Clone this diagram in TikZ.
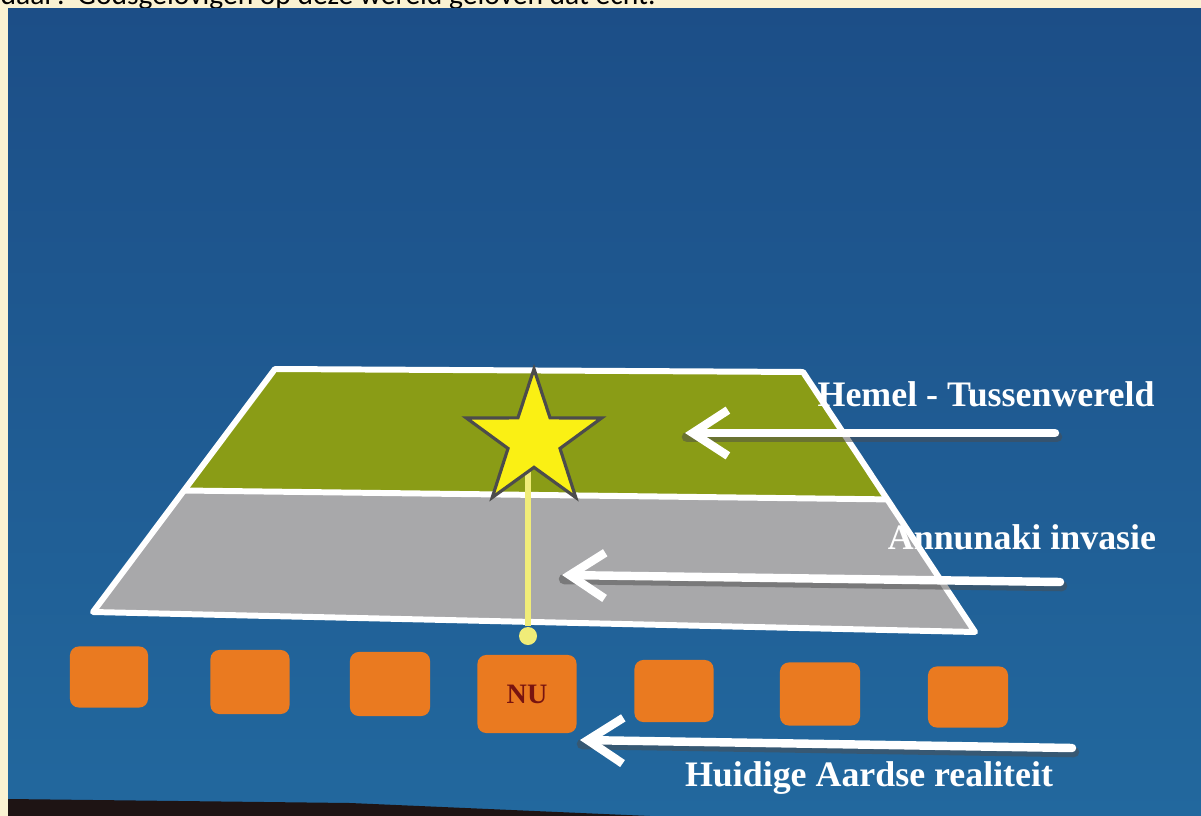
\documentclass[tikz,border=0pt]{standalone}
\usepackage{fontspec}
\setmainfont{Liberation Serif}
\newfontfamily\notefont{Carlito}
\usetikzlibrary{arrows.meta, shapes.geometric, positioning, calc}

\definecolor{paper}{RGB}{250,242,210}
\definecolor{screentop}{RGB}{28,78,135}
\definecolor{screenbot}{RGB}{34,104,158}
\definecolor{screenrim}{RGB}{30,20,20}
\definecolor{heaven}{RGB}{138,156,22}
\definecolor{invasion}{RGB}{168,168,170}
\definecolor{earth}{RGB}{234,122,32}
\definecolor{nutext}{RGB}{120,20,16}
\definecolor{starfill}{RGB}{250,240,20}
\definecolor{beam}{RGB}{240,236,120}

\tikzset{
  era/.style={fill=earth, rounded corners=2.5pt, inner sep=0pt},
  pointer/.style={white, line width=2.4pt, line cap=round,
    -{Straight Barb[length=10pt, width=13pt]}},
  pointershadow/.style={black!70, opacity=0.5, line width=3pt, line cap=round},
  tag/.style={text=white, font=\bfseries\fontsize{10.2}{12}\selectfont, inner sep=0pt}
}

\begin{document}
\begin{tikzpicture}[x=0.01cm, y=-0.01cm]
\useasboundingbox (0,0) rectangle (1201,816);
% Page
\fill[paper] (0,0) rectangle (1201,816);
\begin{scope}
\clip (0,0) rectangle (1201,9);
\node[anchor=base west, font=\notefont\fontsize{8.4}{10}\selectfont, inner sep=0pt] (note) at (0,5) {daar? Godsgelovigen op deze wereld geloven dat echt.};
\end{scope}

% Screen
\shade[top color=screentop, bottom color=screenbot] (8,9) rectangle (1201,816);
\fill[screenrim] (8,799) -- (350,803) -- (650,816) -- (8,816) -- cycle;

% Layers
\coordinate (tl) at (275,369);
\coordinate (tr) at (803,372);
\coordinate (br) at (975,632);
\coordinate (bl) at (93,612);
\coordinate (ml) at ($(tl)!0.5!(bl)$);
\coordinate (mr) at ($(tr)!0.49!(br)$);
\fill[heaven] (tl) -- (tr) -- (mr) -- (ml) -- cycle;
\fill[invasion] (ml) -- (mr) -- (br) -- (bl) -- cycle;
\draw[white, line width=1.7pt, line join=round] (tl) -- (tr) -- (br) -- (bl) -- cycle;
\draw[white, line width=1.7pt] (ml) -- (mr);

% Star and beam
\coordinate (starc) at (534,440);
\node[circle, fill=beam, minimum size=0.18cm, inner sep=0pt] (dot) at (528,636) {};
\draw[beam, line width=1.5pt] (dot) -- (dot |- starc);
\node[star, star points=5, star point ratio=2.6, fill=starfill, draw=black!70, line width=0.9pt,
  minimum size=1.42cm, inner sep=0pt] (star) at (starc) {};

% Timeline
\node[era, minimum width=0.78cm, minimum height=0.61cm] (e1) at (109,677) {};
\node[era, minimum width=0.79cm, minimum height=0.64cm] (e2) at (250,682) {};
\node[era, minimum width=0.80cm, minimum height=0.64cm] (e3) at (390,684) {};
\node[era, minimum width=0.99cm, minimum height=0.78cm, text=nutext,
  font=\bfseries\fontsize{8}{9}\selectfont] (now) at (527,694) {NU};
\node[era, minimum width=0.79cm, minimum height=0.62cm] (e5) at (674,691) {};
\node[era, minimum width=0.80cm, minimum height=0.63cm] (e6) at (820,694) {};
\node[era, minimum width=0.80cm, minimum height=0.61cm] (e7) at (968,697) {};

% Pointers
\coordinate (p1s) at (1055,433);
\coordinate (p1e) at (685,433);
\coordinate (p2s) at (1060,582);
\coordinate (p2e) at (562,575);
\coordinate (p3s) at (1072,748);
\coordinate (p3e) at (580,740);
\foreach \s/\e in {p1s/p1e, p2s/p2e, p3s/p3e}
  \draw[pointershadow] ($(\s)+(2,4)$) -- ($(\e)+(2,4)$);
\draw[pointer] (p1s) -- (p1e);
\draw[pointer] (p2s) -- (p2e);
\draw[pointer] (p3s) -- (p3e);

% Labels
\node[tag] (heavenlabel) at (986,394) {Hemel - Tussenwereld};
\node[tag] (invasionlabel) at (1022,537) {Annunaki invasie};
\node[tag] (earthlabel) at (869,778) {Huidige Aardse realiteit};
\end{tikzpicture}
\end{document}
